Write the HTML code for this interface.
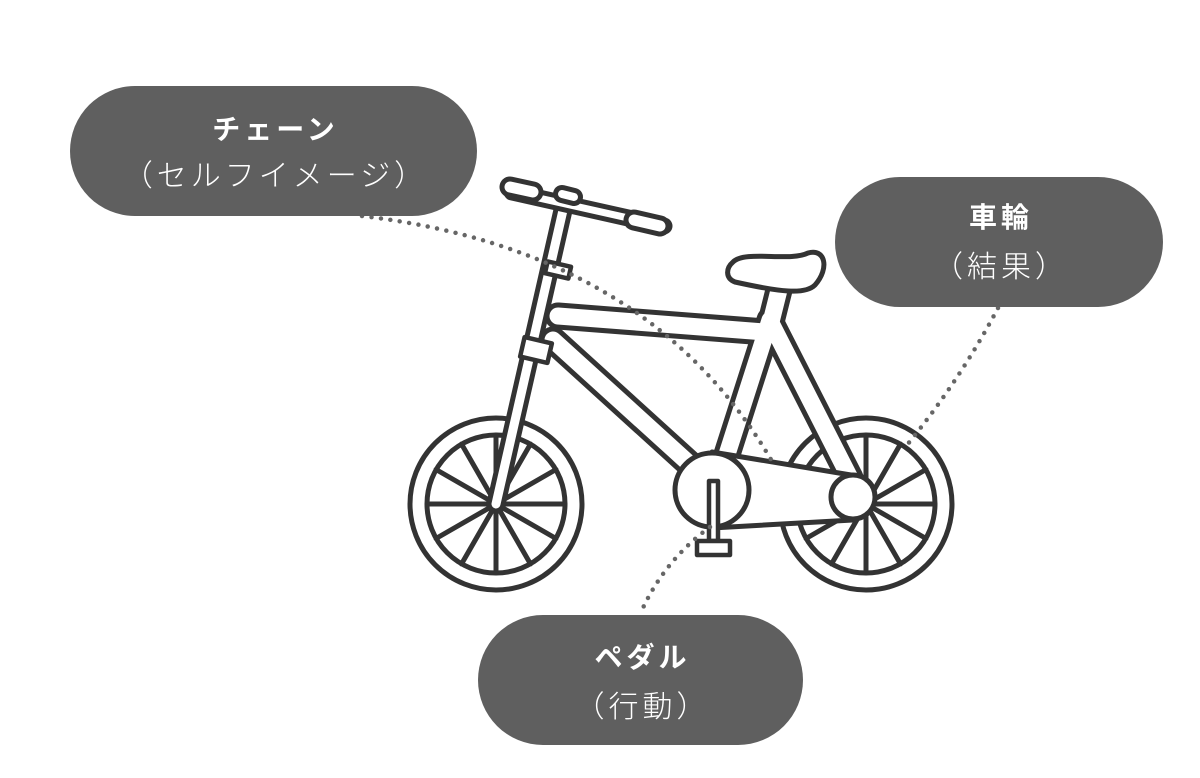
<!DOCTYPE html>
<html><head><meta charset="utf-8"><style>
html,body{margin:0;padding:0;background:#fff;}
.pill{position:absolute;background:#5f5f5f;border-radius:65px;color:#fff;text-align:center;font-family:"Liberation Sans","Noto Sans CJK JP",sans-serif;}
.t1{position:absolute;left:0;right:0;font-weight:bold;font-size:28px;letter-spacing:4px;line-height:32px;padding-left:4px;}
.t2{position:absolute;left:0;right:0;font-weight:300;font-size:30px;letter-spacing:4px;line-height:34px;padding-left:4px;}
</style></head><body>
<div style="position:relative;width:1200px;height:778px;overflow:hidden;">
<svg width="1200" height="778" style="position:absolute;left:0;top:0" fill="none" stroke-linecap="round" stroke-linejoin="round">
<g stroke="#333" stroke-width="5">
  <circle cx="496" cy="504" r="86" fill="#fff"/>
  <circle cx="496" cy="504" r="69"/>
  <path d="M427,504H565M496,435V573M436,469.5L556,538.5M436,538.5L556,469.5M461.5,444L530.5,564M461.5,564L530.5,444"/>
 <circle cx="866" cy="504" r="86" fill="#fff"/>
 <circle cx="866" cy="504" r="69"/>
 <path d="M797,504H935M866,435V573M806,469.5L926,538.5M806,538.5L926,469.5M831.5,444L900.5,564M831.5,564L900.5,444"/>
</g>
<g stroke="#333" stroke-width="27">
 <path d="M558,316L765,332"/>
 <path d="M553,340L705,478"/>
 <path d="M770,320L722,470"/>
 <path d="M772,325L850,478"/>
 <path d="M779,290L769,330"/>
</g>
<g stroke="#fff" stroke-width="17">
 <path d="M558,316L765,332"/>
 <path d="M553,340L705,478"/>
 <path d="M770,320L722,470"/>
 <path d="M772,325L850,478"/>
 <path d="M779,290L769,330"/>
</g>
<path d="M733,262C745,250 790,262 808,253C825,248 830,268 815,285C805,295 780,292 735,282C725,278 726,268 733,262Z" fill="#fff" stroke="#333" stroke-width="5"/>
<path d="M712,452L857,476L853,520L712,528Z" fill="#fff" stroke="#333" stroke-width="5"/>
<circle cx="712" cy="490" r="37" fill="#fff" stroke="#333" stroke-width="5"/>
<circle cx="853" cy="497" r="22" fill="#fff" stroke="#333" stroke-width="5"/>
<rect x="709" y="481" width="9" height="60" fill="#fff" stroke="#333" stroke-width="4.5"/>
<rect x="697" y="541" width="33" height="14" fill="#fff" stroke="#333" stroke-width="4.5"/>
<path d="M496,504L566,197" stroke="#333" stroke-width="19"/>
<path d="M496,504L566,197" stroke="#fff" stroke-width="9"/>
<path d="M512,192L664,226" stroke="#333" stroke-width="17"/>
<path d="M512,192L664,226" stroke="#fff" stroke-width="7"/>
<path d="M510,187L533,192" stroke="#333" stroke-width="21"/>
<path d="M510,187L533,192" stroke="#fff" stroke-width="11"/>
<path d="M634,220L660,226" stroke="#333" stroke-width="21"/>
<path d="M634,220L660,226" stroke="#fff" stroke-width="11"/>
<path d="M562,194L574,197" stroke="#333" stroke-width="18"/>
<path d="M562,194L574,197" stroke="#fff" stroke-width="8"/>
<g transform="rotate(13 558 270)"><rect x="546" y="264" width="24" height="12" fill="#fff" stroke="#333" stroke-width="4.5"/></g>
<g transform="rotate(13 536 350)"><rect x="522" y="340" width="28" height="20" fill="#fff" stroke="#333" stroke-width="4.5"/></g>
<g stroke="#666" stroke-width="4.5" stroke-dasharray="0 9.5">
 <path d="M362,216Q650,250 773,463"/>
 <path d="M998,308Q960,380 907,445"/>
 <path d="M710,527Q665,560 642,610"/>
</g>
</svg>
<div class="pill" style="left:70px;top:86px;width:407px;height:130px;">
 <div class="t1" style="top:28px;">チェーン</div>
 <div class="t2" style="top:74px;">（セルフイメージ）</div>
</div>
<div class="pill" style="left:835px;top:177px;width:328px;height:130px;">
 <div class="t1" style="top:25px;">車輪</div>
 <div class="t2" style="top:74px;">（結果）</div>
</div>
<div class="pill" style="left:478px;top:615px;width:325px;height:130px;">
 <div class="t1" style="top:27px;">ペダル</div>
 <div class="t2" style="top:76px;">（行動）</div>
</div>
</div>
</body></html>
